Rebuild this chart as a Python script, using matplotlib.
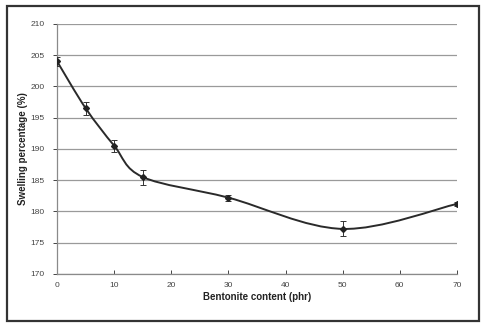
import numpy as np
import matplotlib
matplotlib.use("Agg")
import matplotlib.pyplot as plt
from matplotlib.path import Path
from matplotlib.patches import PathPatch, Rectangle

plt.rcParams['font.family'] = ['Liberation Sans', 'DejaVu Sans']

bentonite = [0, 5, 10, 15, 30, 50, 70]
swelling = [204.0, 196.5, 190.5, 185.5, 182.2, 177.2, 181.2]
err = [0.7, 1.0, 1.0, 1.2, 0.5, 1.2, 0.3]
xticks = [0, 10, 20, 30, 40, 50, 60, 70]
yticks = [170, 175, 180, 185, 190, 195, 200, 205, 210]

fig = plt.figure(figsize=(4.84, 3.23), dpi=100)
ax = fig.add_axes([0.118, 0.152, 0.826, 0.774])

# smooth line like Excel (Catmull-Rom -> cubic bezier)
x = np.array(bentonite, float)
y = np.array(swelling, float)
verts = [(x[0], y[0])]
codes = [Path.MOVETO]
n = len(x)
for i in range(n - 1):
    p0 = np.array([x[max(i - 1, 0)], y[max(i - 1, 0)]])
    p1 = np.array([x[i], y[i]])
    p2 = np.array([x[i + 1], y[i + 1]])
    p3 = np.array([x[min(i + 2, n - 1)], y[min(i + 2, n - 1)]])
    c1 = p1 + (p2 - p0) / 6
    c2 = p2 - (p3 - p1) / 6
    verts += [tuple(c1), tuple(c2), tuple(p2)]
    codes += [Path.CURVE4] * 3
ax.add_patch(PathPatch(Path(verts, codes), facecolor='none', edgecolor='#2a2a2a', lw=1.4, zorder=3))

ax.errorbar(bentonite, swelling, yerr=err, fmt='D', ms=3, color='#222222',
            ecolor='#333333', elinewidth=0.7, capsize=2, capthick=0.7, zorder=4)

ax.set_xlim(0, 70)
ax.set_ylim(170, 210)
ax.set_xticks(xticks)
ax.set_yticks(yticks)
ax.yaxis.grid(True, color='#9a9a9a', lw=0.9)
ax.set_axisbelow(True)
for s in ['top', 'right']:
    ax.spines[s].set_visible(False)
for s in ['left', 'bottom']:
    ax.spines[s].set_color('#8a8a8a')
    ax.spines[s].set_linewidth(0.9)
ax.tick_params(labelsize=6, colors='#444444', length=3, width=0.7, pad=6)
ax.tick_params(axis='x', direction='in', length=3)
ax.set_xlabel('Bentonite content (phr)', fontsize=7, fontweight='bold', color='#222222', labelpad=2)
ax.set_ylabel('Swelling percentage (%)', fontsize=7, fontweight='bold', color='#222222', labelpad=2)

fig.patches.append(Rectangle((0.015, 0.005), 0.975, 0.975, transform=fig.transFigure,
                             fill=False, edgecolor='#333333', lw=1.6))

fig.savefig('out.png', dpi=100)
